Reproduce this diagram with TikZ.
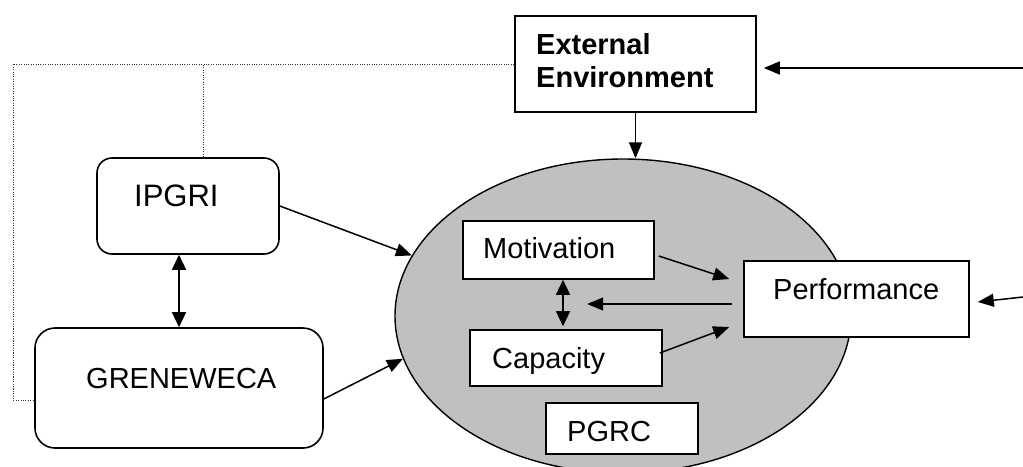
\documentclass[tikz,border=0pt]{standalone}
\usepackage{fontspec}
\setmainfont{Liberation Sans}
\usetikzlibrary{arrows.meta,shapes.geometric}
\definecolor{orggray}{RGB}{192,192,192}
\tikzset{
  box/.style={draw=black, line width=1.6pt, fill=white, inner sep=0pt, rectangle},
  rbox/.style={box, rounded corners=16pt},
  txt/.style={inner sep=0pt, anchor=base west, font=\fontsize{29}{33}\selectfont},
  arr/.style={line width=1.5pt, -{Triangle[length=16pt,width=13pt]}},
  darr/.style={line width=1.5pt, {Triangle[length=15pt,width=14pt]}-{Triangle[length=15pt,width=14pt]}},
  dotline/.style={line width=0.9pt, dash pattern=on 1.1pt off 1.3pt, black!80},
}
\begin{document}
\begin{tikzpicture}[x=1pt,y=-1pt]
\useasboundingbox (0,0) rectangle (1023,466);
% organisation ellipse
\node[ellipse, draw=black, line width=1.4pt, fill=orggray, minimum width=456pt, minimum height=314pt, inner sep=0pt] (org) at (623,316) {};
% boxes
\node[box, minimum width=241pt, minimum height=96pt] (ext) at (635.5,64) {};
\node[rbox, rounded corners=15pt, minimum width=182pt, minimum height=96pt] (ipgri) at (188,206) {};
\node[rbox, rounded corners=20pt, minimum width=288pt, minimum height=120pt] (gren) at (179,388) {};
\node[box, minimum width=191pt, minimum height=58pt] (mot) at (558.5,250) {};
\node[box, minimum width=192pt, minimum height=56pt] (cap) at (566,358) {};
\node[box, minimum width=225pt, minimum height=76pt] (perf) at (856.5,299) {};
\node[box, minimum width=152pt, minimum height=51pt] (pgrc) at (622,428.5) {};
% texts
\node[txt, font=\fontsize{29}{33}\selectfont\bfseries] (extA) at (536,54) {External};
\node[txt, font=\fontsize{29}{33}\selectfont\bfseries] (extB) at (536,87) {Environment};
\node[txt, font=\fontsize{31}{35}\selectfont] (ipgriT) at (134,206) {IPGRI};
\node[txt] (grenT) at (86,388) {GRENEWECA};
\node[txt] (motT) at (483,258) {Motivation};
\node[txt] (capT) at (492,368) {Capacity};
\node[txt] (perfT) at (773,299) {Performance};
\node[txt] (pgrcT) at (567,441) {PGRC};
% dotted links
\coordinate (dl) at (13,64);
\coordinate (dg) at (13,400);
\draw[dotline] (ext.west) -- (dl) -- (dg) -- (gren.west |- dg);
\draw[dotline] ([xshift=15pt]ipgri.north) -- ([xshift=15pt]ipgri.north |- dl);
% right-hand free ends
\coordinate (r1) at (1023,68);
\coordinate (r2) at (1023,297);
% arrows
\draw[arr, shorten >=7pt] (r1) -- (ext.east |- r1);
\draw[arr] (r2) -- ([xshift=8pt,yshift=-3pt]perf.east);
\draw[arr] (ext.south) -- (ext.south |- org.north);
\draw[arr] (ipgri.east) -- (org.164);
\draw[arr] ([yshift=-11pt]gren.east) -- (org.191);
\draw[darr] (gren.north |- ipgri.south) -- (gren.north);
\draw[darr, shorten >=3pt] ([xshift=4.5pt]mot.south) -- ([xshift=4.5pt]mot.south |- cap.north);
\draw[arr] ([xshift=4pt,yshift=-6pt]mot.east) -- ([xshift=-14pt,yshift=20pt]perf.west);
\draw[arr] ([xshift=-3pt,yshift=5pt]cap.east) -- ([xshift=-14pt,yshift=-28pt]perf.west);
\draw[arr] ([xshift=-11pt,yshift=-5pt]perf.west) -- ++(-145,0);
\end{tikzpicture}
\end{document}
